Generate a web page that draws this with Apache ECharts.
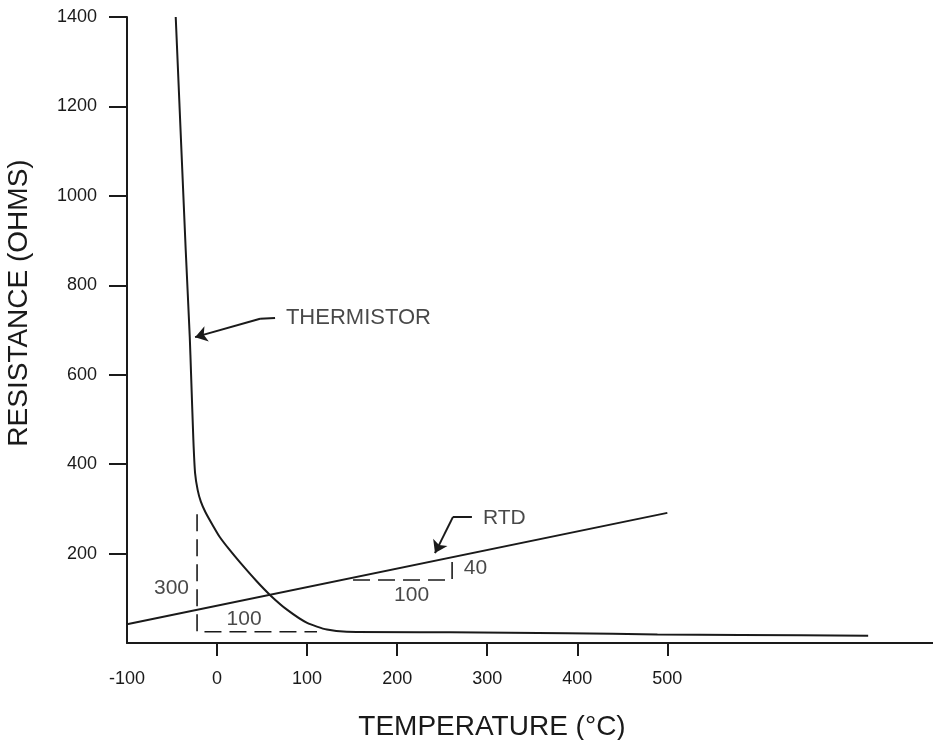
<!DOCTYPE html>
<html>
<head>
    <meta charset="utf-8">
</head>
<body style="margin: 0; background: #fff">
<div id="container" style="width: 933px; height: 740px"></div>

<script type="text/javascript" src="https://cdn.jsdelivr.net/npm/echarts@6/dist/echarts.min.js"></script>
<script type="text/javascript">

    // axis ticks / labels
    var tempTicks = [0, 100, 200, 300, 400, 500];
    var tempLabels = [-100, 0, 100, 200, 300, 400, 500];
    var resTicks = [200, 400, 600, 800, 1000, 1200, 1400];

    // curves: [temperature C, resistance ohms]
    var thermistor = [
        [-45.9, 1400], [-34.8, 879], [-30.3, 684], [-28.9, 604], [-26.3, 454],
        [-24.4, 380], [-21.5, 342], [-18, 316], [-13, 293], [-5, 264],
        [3, 237], [14, 208], [26, 179], [44, 138], [59, 107],
        [78, 74], [100, 45], [122, 30], [144, 25], [259, 24],
        [389, 22], [489, 19], [581, 18], [723, 16]
    ];
    var rtd = [[-100, 42], [500, 291]];

    // slope triangles (dashed)
    var thermSlope = [[-22.2, 288], [-22.2, 25], [111, 25]];
    var rtdSlope = [[151, 141], [261, 141], [261, 183]];

    // callout arrows: tail, elbow, tip
    var thermArrow = [[64.4, 727], [47.8, 725], [-24.4, 684]];
    var rtdArrow = [[283, 282], [262, 282], [242, 201]];

    // text annotations: [x, y, text, fontSize]
    var notes = [
        [157, 727, 'THERMISTOR', 22],
        [319, 278, 'RTD', 21],
        [-50.6, 122, '300', 21],
        [30, 54, '100', 21],
        [216, 107, '100', 21],
        [287, 167, '40', 21]
    ];

    var ink = '#1a1a1a';
    var font = '"Liberation Sans", Arial, sans-serif';
    var arrows = [thermArrow, rtdArrow];

    var myChart = echarts.init(document.getElementById('container'));

    var option = {
        animation: false,
        backgroundColor: '#fff',
        grid: {
            left: 127,
            right: 0,
            top: 17,
            bottom: 97,
            outerBoundsMode: 'none'
        },
        xAxis: {
            type: 'value',
            min: -100,
            max: 795,
            name: 'TEMPERATURE (°C)',
            nameLocation: 'middle',
            nameGap: 70,
            nameTextStyle: {
                color: ink,
                fontFamily: font,
                fontSize: 28,
                padding: [0, 76, 0, 0]
            },
            splitLine: {show: false},
            axisLine: {onZero: false, lineStyle: {color: ink, width: 2}},
            axisTick: {
                customValues: tempTicks,
                length: 13,
                lineStyle: {color: ink, width: 2}
            },
            axisLabel: {
                customValues: tempLabels,
                margin: 27,
                color: ink,
                fontFamily: font,
                fontSize: 18
            }
        },
        yAxis: {
            type: 'value',
            min: 0,
            max: 1400,
            name: 'RESISTANCE (OHMS)',
            nameLocation: 'middle',
            nameRotate: 90,
            nameGap: 94,
            nameTextStyle: {
                color: ink,
                fontFamily: font,
                fontSize: 28,
                padding: [0, 0, 0, 54]
            },
            splitLine: {show: false},
            axisLine: {show: true, onZero: false, lineStyle: {color: ink, width: 2}},
            axisTick: {
                show: true,
                customValues: resTicks,
                length: 18,
                lineStyle: {color: ink, width: 2}
            },
            axisLabel: {
                customValues: resTicks,
                margin: 30,
                color: ink,
                fontFamily: font,
                fontSize: 18,
                padding: [0, 0, 16, 0],
                formatter: function (v) {
                    return String(v);
                }
            }
        },
        series: [
            {
                name: 'THERMISTOR',
                type: 'line',
                data: thermistor,
                smooth: 0.2,
                symbol: 'none',
                lineStyle: {color: ink, width: 2}
            },
            {
                name: 'RTD',
                type: 'line',
                data: rtd,
                symbol: 'none',
                lineStyle: {color: ink, width: 2}
            },
            {
                type: 'line',
                data: thermSlope,
                symbol: 'none',
                lineStyle: {color: ink, width: 1.6, type: [17, 8]}
            },
            {
                type: 'line',
                data: rtdSlope,
                symbol: 'none',
                lineStyle: {color: ink, width: 1.6, type: [17, 8]}
            },
            {
                // short horizontal leader of each callout
                type: 'lines',
                coordinateSystem: 'cartesian2d',
                symbol: 'none',
                lineStyle: {color: ink, width: 2, opacity: 1},
                data: arrows.map(function (a) {
                    return {coords: [a[0], a[1]]};
                })
            },
            {
                // slanted part ending in the arrowhead
                type: 'lines',
                coordinateSystem: 'cartesian2d',
                symbol: ['none', 'arrow'],
                symbolSize: 12,
                lineStyle: {color: ink, width: 2, opacity: 1},
                data: arrows.map(function (a) {
                    return {coords: [a[1], a[2]]};
                })
            },
            {
                type: 'scatter',
                symbolSize: 0,
                silent: true,
                label: {
                    show: true,
                    position: 'inside',
                    color: ink,
                    fontFamily: font,
                    formatter: function (p) {
                        return p.value[2];
                    }
                },
                data: notes.map(function (n) {
                    return {value: [n[0], n[1], n[2]], label: {fontSize: n[3]}};
                })
            }
        ]
    };

    myChart.setOption(option);

</script>
</body>
</html>
